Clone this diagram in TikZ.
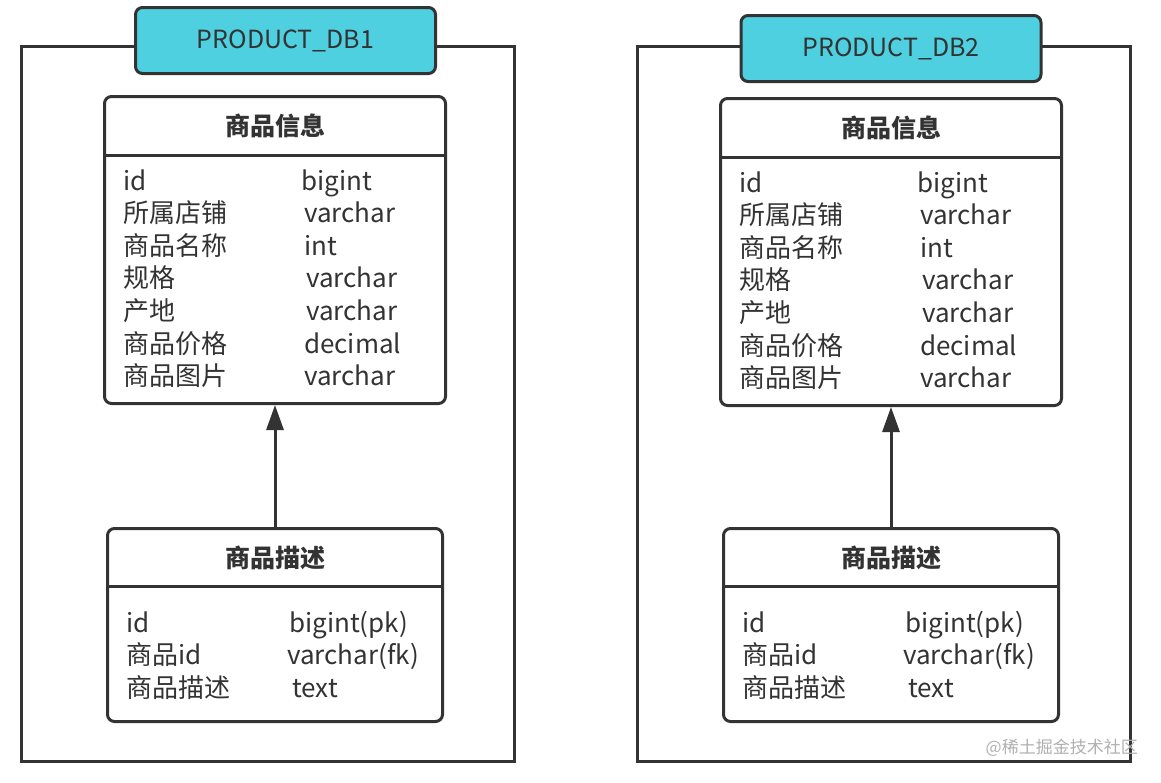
\documentclass[tikz,border=0pt]{standalone}
\usepackage{fontspec}
\setmainfont{Noto Sans CJK SC}
\usetikzlibrary{arrows.meta}
\definecolor{ink}{HTML}{333333}
\definecolor{dbcyan}{HTML}{4ED0E1}
\definecolor{wmgray}{HTML}{B0B0B0}

\begin{document}
\begin{tikzpicture}[x=1pt, y=-1pt,
  frame/.style={draw=ink, line width=3pt},
  dbbox/.style={draw=ink, fill=dbcyan, rounded corners=7pt, line width=3pt, inner sep=0pt,
    minimum width=300pt, minimum height=66pt, text=ink, font=\fontsize{25}{28}\selectfont},
  tbl/.style={draw=ink, fill=white, rounded corners=7pt, line width=3pt, inner sep=0pt},
  ttl/.style={text=ink, font=\fontsize{25}{28}\selectfont\bfseries},
  fld/.style={anchor=west, inner sep=0pt, text height=18pt, text depth=6pt, text=ink,
    font=\fontsize{26}{30}\selectfont},
  sep/.style={draw=ink, line width=3pt},
  link/.style={draw=ink, line width=3pt, -{Triangle[length=25pt,width=17pt]}}]
  \useasboundingbox (0,0) rectangle (1161,782);
  \fill[white] (0,0) rectangle (1161,782);

  % dx = shift of the second panel, (hx,hy) = database label, ty = small drop of the upper table
  \foreach \dx/\hx/\hy/\ty/\n in {0/285.5/40.5/0/1, 616/891/48.5/2/2} {
    \draw[frame] (21.5+\dx,46) rectangle (514+\dx,761);
    \node[dbbox] (db\n) at (\hx,\hy) {PRODUCT\_DB\n};

    % product info
    \node[tbl, minimum width=341pt, minimum height=307pt] (info\n) at (275+\dx,250+\ty) {};
    \draw[sep] (info\n.west |- 0,155+\ty) -- (info\n.east |- 0,155+\ty);
    \node[ttl] (infott\n) at (275+\dx,126+\ty) {商品信息};
    \foreach \fname/\ftype/\tx [count=\k from 0] in {id/bigint/301, 所属店铺/varchar/304,
        商品名称/int/304, 规格/varchar/306, 产地/varchar/306, 商品价格/decimal/304,
        商品图片/varchar/304} {
      \node[fld] (infof\n-\k) at (123+\dx,184+\ty+32.6*\k) {\fname};
      \node[fld] (infot\n-\k) at (\tx+\dx,184+\ty+32.6*\k) {\ftype};
    }

    % product description
    \node[tbl, minimum width=335pt, minimum height=193pt] (desc\n) at (275+\dx,625) {};
    \draw[sep] (desc\n.west |- 0,586) -- (desc\n.east |- 0,586);
    \node[ttl] (desctt\n) at (275+\dx,558) {商品描述};
    \foreach \fname/\ftype/\tx [count=\k from 0] in {id/bigint(pk)/289, 商品id/varchar(fk)/287,
        商品描述/text/292} {
      \node[fld] (descf\n-\k) at (126+\dx,626+32.5*\k) {\fname};
      \node[fld] (desct\n-\k) at (\tx+\dx,626+32.5*\k) {\ftype};
    }

    \draw[link] (desc\n.north) -- (info\n.south);
  }

  \node[text=wmgray, font=\fontsize{17}{20}\selectfont, anchor=east, inner sep=0pt] (wm) at (1138,748) {@稀土掘金技术社区};
\end{tikzpicture}
\end{document}
